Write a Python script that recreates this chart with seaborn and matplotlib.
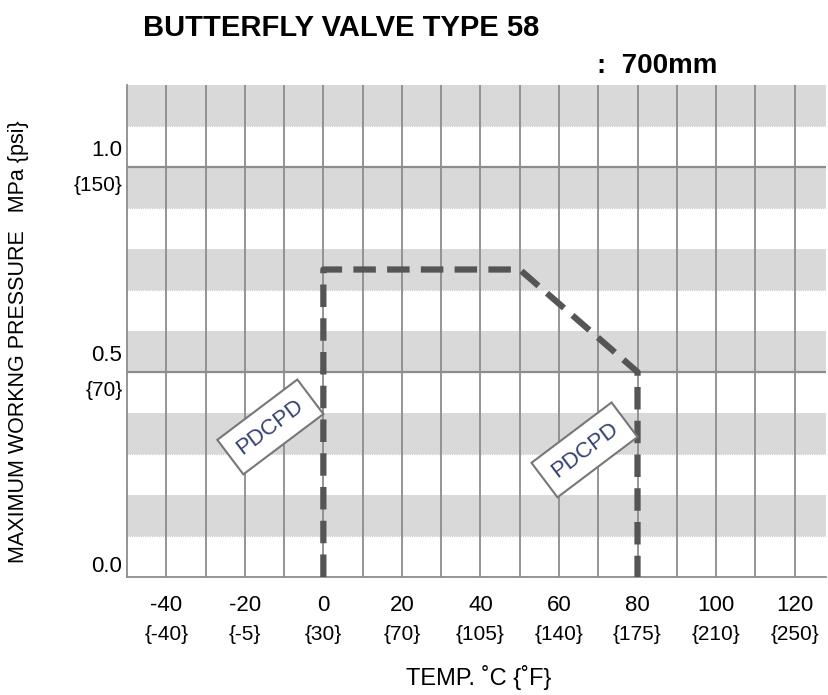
import matplotlib

matplotlib.use("Agg")
import matplotlib.pyplot as plt
import matplotlib.transforms as mtransforms
import pandas as pd
import seaborn as sns

# rating curve (temperature in C, pressure in MPa)
temps = [0, 0, 50, 80, 80]
pressures = [0.0, 0.75, 0.75, 0.5, 0.0]

x_ticks = [-40, -20, 0, 20, 40, 60, 80, 100, 120]
x_labels_f = ["{-40}", "{-5}", "{30}", "{70}", "{105}", "{140}", "{175}", "{210}", "{250}"]
y_ticks = [0.0, 0.5, 1.0]
y_labels = ["0.0", "0.5", "1.0"]
psi_ticks = [0.5, 1.0]
psi_labels = ["{70}", "{150}"]
band_starts = [0.1, 0.3, 0.5, 0.7, 0.9, 1.1]
grid_x = list(range(-40, 130, 10))

sns.set_style("white")
plt.rcParams["font.family"] = ["Liberation Sans", "DejaVu Sans"]
plt.rcParams["text.color"] = "black"
plt.rcParams["xtick.color"] = "black"

fig = plt.figure(figsize=(8.29, 6.95), dpi=100)
ax = fig.add_axes([0.1532, 0.1698, 0.8432, 0.7079])

ax.set_xlim(-50, 128)
ax.set_ylim(0, 1.2)

# shaded bands
for b in band_starts:
    ax.axhspan(b, b + 0.1, color="#d9d9d9", lw=0, zorder=0)
    ax.axhline(b, color="#c8c8c8", lw=0.8, ls=(0, (1, 1)), zorder=0.5)
for gx in grid_x:
    ax.axvline(gx, color="#8c8c8c", lw=1.3, zorder=1)
for gy in psi_ticks:
    ax.axhline(gy, color="#8c8c8c", lw=1.6, zorder=1)

df = pd.DataFrame({"temp": temps, "pressure": pressures})
sns.lineplot(data=df, x="temp", y="pressure", sort=False, estimator=None,
             color="#555555", lw=4.5, ax=ax, zorder=3)
ax.lines[-1].set_linestyle((0, (3.6, 1.8)))
ax.set_xlabel("")
ax.set_ylabel("")

# spines
for side in ["top", "right"]:
    ax.spines[side].set_visible(False)
for side in ["left", "bottom"]:
    ax.spines[side].set_color("#8c8c8c")
    ax.spines[side].set_linewidth(1.3)

# x ticks: two rows, C and F
ax.set_xticks(x_ticks)
ax.set_xticklabels(x_ticks)
ax.set_xticks(grid_x, minor=True)
ax.tick_params(axis="x", which="major", length=0, pad=13, labelsize=16, labelcolor="black")
ax.tick_params(axis="x", which="minor", length=5, color="#8c8c8c", width=1)
off_f = mtransforms.offset_copy(ax.get_xaxis_transform(), fig=fig, x=0, y=-58, units="dots")
for xv, lab in zip(x_ticks, x_labels_f):
    ax.text(xv, 0, lab, transform=off_f, ha="center", va="center", fontsize=15)

# y ticks: MPa above line, psi below line
ax.set_yticks([])
for yv, lab in zip(y_ticks, y_labels):
    dy = 10 if yv == 0 else 16
    tr = mtransforms.offset_copy(ax.get_yaxis_transform(), fig=fig, x=-5, y=dy, units="dots")
    ax.text(0, yv, lab, transform=tr, ha="right", va="center", fontsize=16)
for yv, lab in zip(psi_ticks, psi_labels):
    tr = mtransforms.offset_copy(ax.get_yaxis_transform(), fig=fig, x=-4, y=-19, units="dots")
    ax.text(0, yv, lab, transform=tr, ha="right", va="center", fontsize=15)

fig.text(0.022, 0.508, "MAXIMUM WORKNG PRESSURE   MPa {psi}", rotation=90,
         ha="center", va="center", fontsize=15.5)
fig.text(0.577, 0.025, "TEMP. \u02daC {\u02daF}", ha="center", va="center", fontsize=17)

fig.text(0.172, 0.96, "BUTTERFLY VALVE TYPE 58", ha="left", va="center",
         fontsize=21, fontweight="bold")
fig.text(0.72, 0.905, ":  700mm", ha="left", va="center", fontsize=20, fontweight="bold")

# material stamps
for sx, sy in [(-13.5, 0.366), (66.5, 0.31)]:
    ax.text(sx, sy, "PDCPD", rotation=37, ha="center", va="center", fontsize=16,
            color="#34406e", zorder=4, rotation_mode="anchor",
            bbox=dict(boxstyle="square,pad=0.5", fc="white", ec="#777777", lw=1.5))

fig.savefig("out.png", dpi=100, facecolor="white")
